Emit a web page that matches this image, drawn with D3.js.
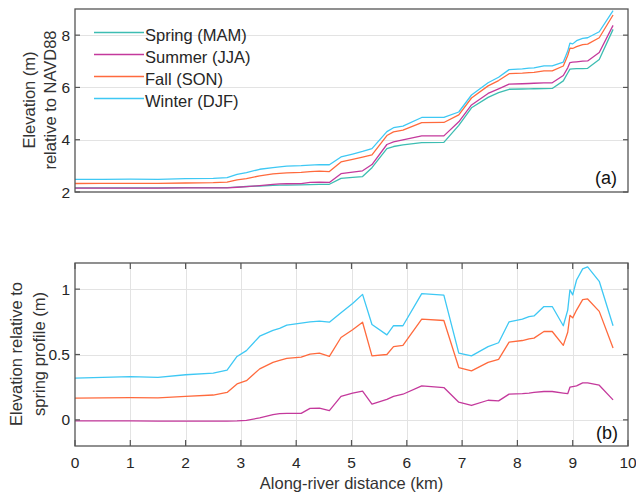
<!DOCTYPE html>
<html>
<head>
<meta charset="utf-8">
<script src="https://cdn.jsdelivr.net/npm/d3@7"></script>
<style>
  html, body { margin: 0; padding: 0; background: #fff; }
  svg { display: block; font-family: "Liberation Sans", Arial, Helvetica, sans-serif; }
</style>
</head>
<body>
<svg id="chart" width="636" height="494"></svg>
<script>
// ---------------- DATA ----------------
const distanceKm = [0, 0.5, 1.0, 1.5, 2.0, 2.5, 2.75, 2.93, 3.1, 3.34, 3.58, 3.7, 3.83, 4.09, 4.25, 4.42, 4.6, 4.81, 5.02, 5.2,
  5.37, 5.64, 5.76, 5.93, 6.27, 6.67, 6.94, 7.17, 7.47, 7.66, 7.85, 8.09, 8.21, 8.3, 8.48, 8.63, 8.83, 8.91, 8.95, 9.0,
  9.07, 9.18, 9.27, 9.48, 9.73];

// Spring (MAM) elevation, m relative to NAVD88
const springElev = [2.16, 2.16, 2.16, 2.16, 2.165, 2.165, 2.17, 2.19, 2.21, 2.23, 2.25, 2.26, 2.265, 2.27, 2.28, 2.29, 2.295, 2.52, 2.56, 2.59,
  2.93, 3.66, 3.74, 3.80, 3.885, 3.90, 4.55, 5.22, 5.62, 5.80, 5.93, 5.94, 5.945, 5.95, 5.955, 5.96, 6.25, 6.55, 6.70, 6.71,
  6.72, 6.72, 6.73, 7.07, 8.22];

// Elevation relative to spring profile (m)
const summerDiff = [-0.008, -0.008, -0.008, -0.009, -0.01, -0.01, -0.01, -0.008, -0.004, 0.015, 0.04, 0.048, 0.05, 0.05, 0.088, 0.09, 0.07, 0.18, 0.204, 0.22,
  0.12, 0.157, 0.18, 0.196, 0.26, 0.247, 0.135, 0.11, 0.15, 0.145, 0.197, 0.2, 0.205, 0.21, 0.217, 0.217, 0.205, 0.2, 0.25, 0.255,
  0.26, 0.283, 0.283, 0.265, 0.153];
const fallDiff = [0.166, 0.168, 0.17, 0.168, 0.18, 0.19, 0.21, 0.275, 0.30, 0.39, 0.44, 0.455, 0.47, 0.48, 0.503, 0.51, 0.485, 0.63, 0.69, 0.747,
  0.49, 0.50, 0.56, 0.57, 0.77, 0.76, 0.40, 0.375, 0.44, 0.463, 0.595, 0.607, 0.62, 0.625, 0.676, 0.676, 0.57, 0.67, 0.80, 0.78,
  0.84, 0.92, 0.925, 0.83, 0.55];
const winterDiff = [0.32, 0.325, 0.33, 0.325, 0.345, 0.357, 0.38, 0.485, 0.53, 0.64, 0.685, 0.70, 0.725, 0.74, 0.75, 0.755, 0.747, 0.82, 0.89, 0.96,
  0.73, 0.65, 0.72, 0.72, 0.966, 0.954, 0.51, 0.49, 0.56, 0.59, 0.75, 0.77, 0.79, 0.795, 0.867, 0.867, 0.72, 0.84, 0.995, 0.956,
  1.07, 1.155, 1.17, 1.06, 0.72];

const seasonNames = ["Spring (MAM)", "Summer (JJA)", "Fall (SON)", "Winter (DJF)"];
const seasonColors = ["#3dbdb2", "#c4399c", "#ff6a3d", "#3ec8f4"];

const xTicks = [0, 1, 2, 3, 4, 5, 6, 7, 8, 9, 10];
const yTicksTop = [2, 4, 6, 8];
const yTicksBottom = [0, 0.5, 1];

// ---------------- LAYOUT ----------------
const svg = d3.select("#chart");
const L = 75, R = 628;
const topP = { y0: 9, y1: 192 };
const botP = { y0: 263, y1: 446 };
const axisColor = "#555";
const gridColor = "#e3e3e3";
const textColor = "#262626";

const x = d3.scaleLinear().domain([0, 10]).range([L, R]);
const yTop = d3.scaleLinear().domain([2, 9]).range([topP.y1, topP.y0]);
const yBot = d3.scaleLinear().domain([-0.2, 1.2]).range([botP.y1, botP.y0]);

// series for top panel (each season = spring + its difference)
const topSeries = [
  springElev,
  springElev.map((v, i) => v + summerDiff[i]),
  springElev.map((v, i) => v + fallDiff[i]),
  springElev.map((v, i) => v + winterDiff[i])
];
const botSeries = [null, summerDiff, fallDiff, winterDiff];

function panel(yScale, p, yTicks, opts) {
  const g = svg.append("g");
  // grid
  yTicks.forEach(t => {
    if (yScale(t) > p.y0 + 1 && yScale(t) < p.y1 - 1) {
      g.append("line").attr("x1", L).attr("x2", R)
        .attr("y1", Math.round(yScale(t)) + 0.5).attr("y2", Math.round(yScale(t)) + 0.5)
        .attr("stroke", gridColor).attr("stroke-width", 1);
    }
  });
  if (opts.vgrid) {
    xTicks.forEach(t => {
      if (x(t) > L + 1 && x(t) < R - 1) {
        g.append("line").attr("y1", p.y0).attr("y2", p.y1)
          .attr("x1", Math.round(x(t)) + 0.5).attr("x2", Math.round(x(t)) + 0.5)
          .attr("stroke", gridColor).attr("stroke-width", 1);
      }
    });
  }
  return g;
}

function frame(yScale, p, yTicks, opts) {
  const g = svg.append("g");
  g.append("rect").attr("x", L).attr("y", p.y0).attr("width", R - L).attr("height", p.y1 - p.y0)
    .attr("fill", "none").attr("stroke", axisColor).attr("stroke-width", 1.3);
  // y ticks (left and right, inward)
  yTicks.forEach(t => {
    const yy = yScale(t);
    g.append("line").attr("x1", L).attr("x2", L + 5).attr("y1", yy).attr("y2", yy)
      .attr("stroke", axisColor).attr("stroke-width", 1.2);
    g.append("line").attr("x1", R).attr("x2", R - 5).attr("y1", yy).attr("y2", yy)
      .attr("stroke", axisColor).attr("stroke-width", 1.2);
    g.append("text").attr("x", L - 5).attr("y", yy + 5.5)
      .attr("text-anchor", "end").attr("font-size", 15.5).attr("fill", textColor)
      .text(d3.format("~g")(t));
  });
  if (opts.xticks) {
    xTicks.forEach(t => {
      const xx = x(t);
      g.append("line").attr("x1", xx).attr("x2", xx).attr("y1", p.y1).attr("y2", p.y1 - 6)
        .attr("stroke", axisColor).attr("stroke-width", 1.2);
      g.append("line").attr("x1", xx).attr("x2", xx).attr("y1", p.y0).attr("y2", p.y0 + 6)
        .attr("stroke", axisColor).attr("stroke-width", 1.2);
      g.append("text").attr("x", xx).attr("y", p.y1 + 22)
        .attr("text-anchor", "middle").attr("font-size", 15.5).attr("fill", textColor)
        .text(t);
    });
  }
  return g;
}

const line = (yScale) => d3.line().x((d, i) => x(distanceKm[i])).y(d => yScale(d));

// ---- Top panel ----
panel(yTop, topP, yTicksTop, { vgrid: false });
const gTop = svg.append("g");
topSeries.forEach((s, k) => {
  gTop.append("path").datum(s).attr("d", line(yTop)).attr("fill", "none")
    .attr("stroke", seasonColors[k]).attr("stroke-width", 1.3).attr("stroke-linejoin", "round");
});
frame(yTop, topP, yTicksTop, { xticks: false });

// ---- Bottom panel ----
panel(yBot, botP, yTicksBottom, { vgrid: true });
const gBot = svg.append("g");
botSeries.forEach((s, k) => {
  if (!s) return;
  gBot.append("path").datum(s).attr("d", line(yBot)).attr("fill", "none")
    .attr("stroke", seasonColors[k]).attr("stroke-width", 1.3).attr("stroke-linejoin", "round");
});
frame(yBot, botP, yTicksBottom, { xticks: true });

// ---- Legend ----
const leg = svg.append("g");
seasonNames.forEach((name, k) => {
  const yy = 32.5 + k * 22;
  leg.append("line").attr("x1", 94).attr("x2", 144).attr("y1", yy).attr("y2", yy)
    .attr("stroke", seasonColors[k]).attr("stroke-width", 1.3);
  leg.append("text").attr("x", 145).attr("y", yy + 8)
    .attr("font-size", 16.5).attr("fill", textColor).text(name);
});

// ---- Labels ----
function vlabel(cx, cy, txt) {
  svg.append("text").attr("transform", `translate(${cx},${cy}) rotate(-90)`)
    .attr("text-anchor", "middle").attr("dominant-baseline", "central")
    .attr("font-size", 16.5).attr("fill", "#333").text(txt);
}
vlabel(29, 100, "Elevation (m)");
vlabel(50, 100, "relative to NAVD88");
vlabel(16, 354, "Elevation relative to");
vlabel(39, 354, "spring profile (m)");

svg.append("text").attr("x", (L + R) / 2).attr("y", 489)
  .attr("text-anchor", "middle").attr("font-size", 16.5).attr("fill", "#333")
  .text("Along-river distance (km)");

svg.append("text").attr("x", 617).attr("y", 184).attr("text-anchor", "end")
  .attr("font-size", 18).attr("fill", "#111").text("(a)");
svg.append("text").attr("x", 618).attr("y", 439).attr("text-anchor", "end")
  .attr("font-size", 18).attr("fill", "#111").text("(b)");
</script>
</body>
</html>
